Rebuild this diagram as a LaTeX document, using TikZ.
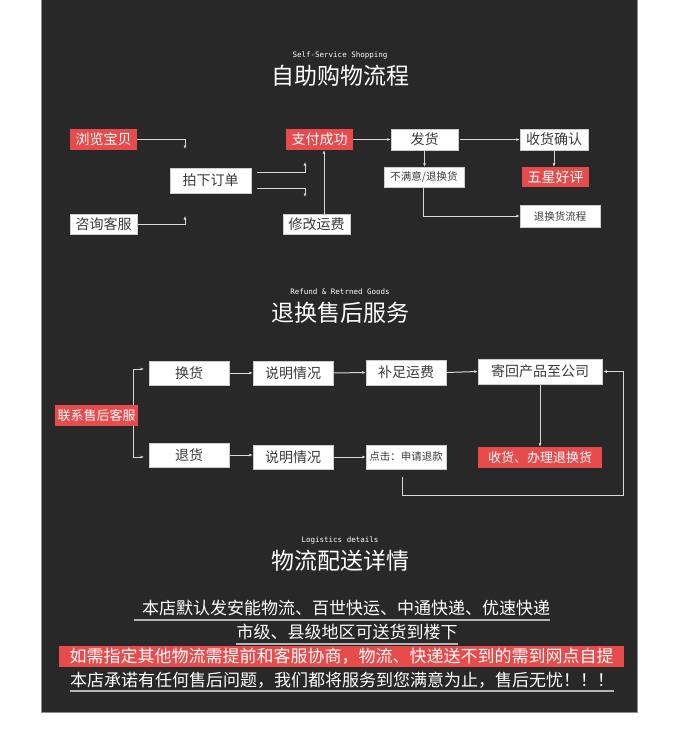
\documentclass[tikz,border=0pt]{standalone}
\usepackage{fontspec}
\setmainfont{Noto Sans CJK SC}
\newfontfamily\monof{DejaVu Sans Mono}
\usetikzlibrary{arrows.meta}
\pgfdeclarelayer{bg}\pgfdeclarelayer{lines}\pgfsetlayers{bg,lines,main}
\definecolor{darkbg}{HTML}{282828}
\definecolor{redbox}{HTML}{E84B4B}
\definecolor{linec}{HTML}{D8D8D8}
\definecolor{txt}{HTML}{3A3A3A}
\definecolor{ulc}{HTML}{B5B5B5}
\tikzset{
  wbox/.style={fill=white, draw=black!20, line width=0.5pt, text=txt, inner sep=0pt, font=\fontsize{14}{16}\selectfont},
  rbox/.style={fill=redbox, text=white, inner sep=0pt, font=\fontsize{14}{16}\selectfont},
  small/.style={font=\fontsize{10.5}{12}\selectfont},
  mid/.style={font=\fontsize{13}{15}\selectfont},
  arr/.style={draw=linec, line width=1pt, -{Latex[length=3.5pt,width=3pt]}},
  subt/.style={text=white, inner sep=0pt, font=\monof\fontsize{7.5}{9}\selectfont},
  titl/.style={text=white, inner sep=0pt, font=\fontsize{23}{26}\selectfont},
  stext/.style={text=white, inner sep=0pt, font=\fontsize{17}{19}\selectfont},
  uline/.style={draw=ulc, line width=2pt},
}
\begin{document}
\begin{tikzpicture}[x=1pt,y=-1pt]
\useasboundingbox (0,0) rectangle (680,755);
\begin{pgfonlayer}{bg}
\fill[white] (0,0) rectangle (680,755);
\fill[darkbg] (41,0) rectangle (638,712);
\draw[black!45, line width=1pt] (41.5,0) -- (41.5,712.5) -- (637.5,712.5) -- (637.5,0);
\end{pgfonlayer}

% ---------- Section 1 ----------
\node[subt] (st1) at (340,55) {Self-Service Shopping};
\node[titl] (ti1) at (340,76) {自助购物流程};

\node[rbox, minimum width=67pt, minimum height=21pt] (b1) at (103.5,139.5) {浏览宝贝};
\node[wbox, minimum width=67pt, minimum height=20pt] (b2) at (103.5,224) {咨询客服};
\node[wbox, minimum width=81pt, minimum height=25pt] (b3) at (210.5,180.5) {拍下订单};
\node[rbox, minimum width=67pt, minimum height=21pt] (b4) at (319.5,139.5) {支付成功};
\node[wbox, minimum width=67pt, minimum height=20pt] (b5) at (316.5,224) {修改运费};
\node[wbox, minimum width=67pt, minimum height=21pt] (b6) at (424.5,139.5) {发货};
\node[wbox, minimum width=68pt, minimum height=21pt] (b7) at (554,139.5) {收货确认};
\node[rbox, minimum width=67pt, minimum height=20pt] (b8) at (555.5,177) {五星好评};
\node[wbox, small, minimum width=80pt, minimum height=20pt] (b9) at (424,177) {不满意/退换货};
\node[wbox, small, minimum width=80pt, minimum height=22pt] (b10) at (560,216) {退换货流程};

\coordinate (c1) at (185,149);
\coordinate (c2) at (185,216);
\coordinate (c3s) at (257,172);
\coordinate (c3e) at (305,162);
\coordinate (c4s) at (257,188);
\coordinate (c4e) at (305,197);

\begin{pgfonlayer}{lines}
\draw[arr] (b1.east) -| (c1);
\draw[arr] (b2.east) -| (c2);
\draw[arr] (c3s) -| (c3e);
\draw[arr] (c4s) -| (c4e);
\draw[arr] ([xshift=7.5pt]b5.north) -- ([xshift=7.5pt]b5.north |- b4.south);
\draw[arr] (b4.east) -- (b6.west);
\draw[arr] ([xshift=2pt]b6.east) -- (b7.west);
\draw[arr] (b7.south) -- (b7.south |- b8.north);
\draw[arr] (b6.south) -- (b6.south |- b9.north);
\draw[arr] ([xshift=-1pt]b9.south) |- (b10.west);
\end{pgfonlayer}

% ---------- Section 2 ----------
\node[subt] (st2) at (340,292) {Refund \& Retrned Goods};
\node[titl] (ti2) at (340,313) {退换售后服务};

\node[rbox, mid, minimum width=83pt, minimum height=21pt] (s1) at (96.5,415.5) {联系售后客服};
\node[wbox, minimum width=80pt, minimum height=24pt] (s2) at (189,373) {换货};
\node[wbox, minimum width=80pt, minimum height=24pt] (s3) at (293,373) {说明情况};
\node[wbox, minimum width=80pt, minimum height=25pt] (s4) at (406,372.5) {补足运费};
\node[wbox, minimum width=124pt, minimum height=25pt] (s5) at (540,371.5) {寄回产品至公司};
\node[wbox, minimum width=80pt, minimum height=24pt] (s6) at (189,455) {退货};
\node[wbox, minimum width=80pt, minimum height=24pt] (s7) at (293,457) {说明情况};
\node[wbox, small, minimum width=80pt, minimum height=24pt] (s8) at (406,457) {点击：申请退款};
\node[rbox, mid, minimum width=124pt, minimum height=21pt] (s9) at (540,457.5) {收货、办理退换货};

\coordinate (k0) at (133,415.5);
\coordinate (k1) at (144,369);
\coordinate (k2) at (144,457);
\coordinate (l0) at (402,477);

\begin{pgfonlayer}{lines}
\draw[arr] (k0) |- (k1);
\draw[arr] (k0) |- (k2);
\draw[arr] (s2.east) -- (s3.west);
\draw[arr] (s3.east) -- (s4.west);
\draw[arr] (s4.east) -- (s5.west);
\draw[arr] (s5.south) -- (s5.south |- s9.north);
\draw[arr] (s6.east) -- (s6.east -| s7.west);
\draw[arr] (s7.east) -- (s8.west);
\draw[arr] (l0) -- ++(0,18) -| ([xshift=21pt]s5.east) -- ([xshift=1pt]s5.east);
\end{pgfonlayer}

% ---------- Section 3 ----------
\node[subt] (st3) at (340,540) {Logistics details};
\node[titl] (ti3) at (340,561) {物流配送详情};

\node[stext] (t1) at (346,608) {本店默认发安能物流、百世快运、中通快递、优速快递};
\node[stext] (t2) at (347,632) {市级、县级地区可送货到楼下};
\node[stext, fill=redbox, minimum width=565pt, minimum height=21pt] (t3) at (341.5,656.5) {如需指定其他物流需提前和客服协商，物流、快递送不到的需到网点自提};
\node[stext] (t4) at (342,680) {本店承诺有任何售后问题，我们都将服务到您满意为止，售后无忧！！！};

\draw[uline] ([xshift=-8pt,yshift=-12pt]t1.west) -- ([yshift=-12pt]t1.east);
\draw[uline] ([yshift=-12pt]t2.west) -- ([yshift=-12pt]t2.east);
\draw[uline] ([yshift=-11pt]t4.west) -- ([yshift=-11pt]t4.east);
\end{tikzpicture}
\end{document}
